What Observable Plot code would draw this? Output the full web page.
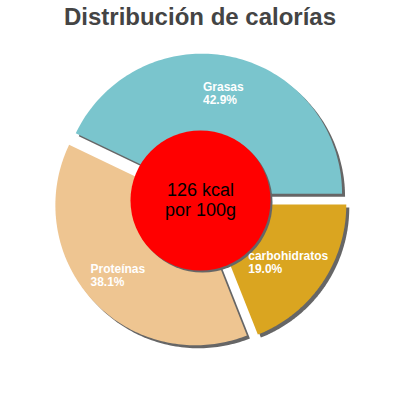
<!DOCTYPE html>
<html>
<head>
<meta charset="utf-8">
<script src="https://cdn.jsdelivr.net/npm/d3@7"></script>
<script src="https://cdn.jsdelivr.net/npm/@observablehq/plot@0.6"></script>
<style>
  html, body { margin: 0; padding: 0; background: #fff; }
  #title {
    width: 400px; height: 34px; padding-top: 2px;
    font: bold 24px "Liberation Sans", Arial, sans-serif;
    line-height: 30px; color: #444; text-align: center;
  }
  g[aria-label="slice-labels"] text { letter-spacing: 0.5px; }
</style>
</head>
<body>
<div id="title">Distribución de calorías</div>
<div id="chart"></div>
<script>
// ---- data ----
const categories = ["Grasas", "Proteínas", "carbohidratos"];
const percents = [42.9, 38.1, 19.0];
const colors = ["#7AC5CD", "#EEC591", "#DAA520"];
const centerLines = ["126 kcal", "por 100g"];

// ---- geometry (pixels == data units) ----
const R = 140, EXPLODE = 7, INNER = 70, SHADOW = 3, LABEL_R = 110;
const W = 400, H = 364, CY = 164; // pie centre sits at svg y = 164 (page y = 200)

const slices = [];
let a = 0;
categories.forEach((c, i) => {
  const a0 = a, a1 = a + percents[i] / 100 * 2 * Math.PI;
  a = a1;
  slices.push({label: c, pct: percents[i], a0, a1, mid: (a0 + a1) / 2});
});

const pts = [];
for (const s of slices) {
  const ox = EXPLODE * Math.cos(s.mid), oy = -EXPLODE * Math.sin(s.mid);
  pts.push({label: s.label, x: ox, y: oy});
  const N = 120;
  for (let k = 0; k <= N; k++) {
    const t = s.a0 + (s.a1 - s.a0) * k / N;
    pts.push({label: s.label, x: ox + R * Math.cos(t), y: oy - R * Math.sin(t)});
  }
}

// label positions (left aligned block centred on mid-angle point)
const ctx = document.createElement("canvas").getContext("2d");
ctx.font = 'bold 12px "Liberation Sans", Arial, sans-serif';
const labelData = slices.map(s => {
  const txt = `${s.label}\n${s.pct.toFixed(1)}%`;
  const w = Math.max(...txt.split("\n").map(l => ctx.measureText(l).width + 0.5 * l.length));
  return {text: txt, x: LABEL_R * Math.cos(s.mid) - w / 2, y: -LABEL_R * Math.sin(s.mid)};
});

const chart = Plot.plot({
  width: W, height: H,
  margin: 0,
  x: {domain: [-W / 2, W / 2], range: [0, W], axis: null},
  y: {domain: [-CY, H - CY], range: [0, H], axis: null},
  color: {domain: categories, range: colors},
  style: {background: "white", fontFamily: '"Liberation Sans", Arial, sans-serif'},
  marks: [
    Plot.line(pts, {x: d => d.x + SHADOW, y: d => d.y + SHADOW, z: "label", fill: "#666", stroke: null}),
    Plot.line(pts, {x: "x", y: "y", z: "label", fill: "label", stroke: null}),
    Plot.dot([0], {x: () => 2, y: () => 2, r: INNER, fill: "#666", stroke: null}),
    Plot.dot([0], {x: () => 0, y: () => 0, r: INNER, fill: "#FF0000", stroke: null}),
    Plot.text([centerLines.join("\n")], {x: () => 0, y: () => -1, text: d => d, fontSize: 18, lineHeight: 1.1, fill: "black", lineAnchor: "middle", textAnchor: "middle"}),
    Plot.text(labelData, {x: "x", y: "y", text: "text", fontSize: 12, fontWeight: "bold", lineHeight: 1.1, fill: "white", textAnchor: "start", lineAnchor: "middle", ariaLabel: "slice-labels"})
  ]
});
document.getElementById("chart").appendChild(chart);
</script>
</body>
</html>
